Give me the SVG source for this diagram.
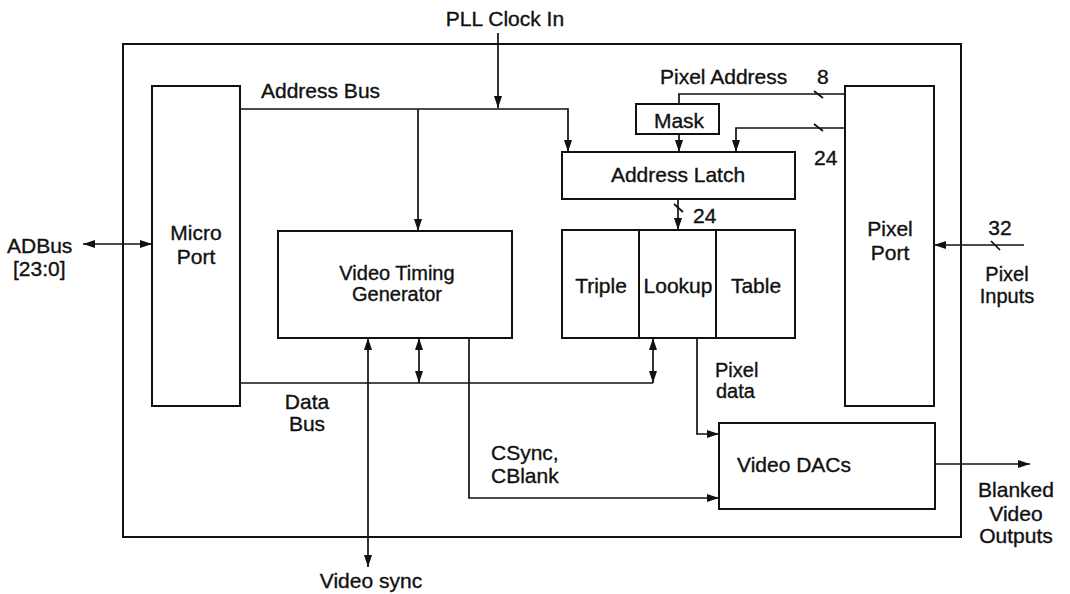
<svg xmlns="http://www.w3.org/2000/svg" width="1070" height="594" viewBox="0 0 1070 594">
<style>
.box{fill:none;stroke:#111;stroke-width:2}
.ln{fill:none;stroke:#111;stroke-width:1.7}
.t{font-family:"Liberation Sans",Arial,sans-serif;font-size:21px;fill:#111;stroke:#111;stroke-width:0.35}
.s{font-size:20px}
.m{text-anchor:middle}
</style>
<defs>
<marker id="ah" viewBox="0 0 12 8" refX="12" refY="4" markerWidth="12" markerHeight="8" markerUnits="userSpaceOnUse" orient="auto-start-reverse">
<path d="M0,0 L12,4 L0,8 Z" fill="#111"/>
</marker>
</defs>
<rect width="1070" height="594" fill="#fff"/>
<g id="outer"><rect class="box" x="123" y="44" width="838" height="493"/></g>
<g id="micro-port"><rect class="box" x="152" y="86" width="88" height="320"/><text class="t m" x="196" y="240">Micro</text><text class="t m" x="196" y="264">Port</text></g>
<g id="vtg"><rect class="box" x="278" y="231" width="234" height="107"/><text class="t s m" x="397" y="280">Video Timing</text><text class="t s m" x="397" y="301">Generator</text></g>
<g id="mask"><rect class="box" x="636" y="104" width="83" height="30"/><text class="t m" x="679" y="128">Mask</text></g>
<g id="address-latch"><rect class="box" x="562" y="152" width="233" height="47"/><text class="t m" x="678" y="182">Address Latch</text></g>
<g id="lut"><rect class="box" x="562" y="230" width="233" height="108"/><line class="box" x1="639" y1="230" x2="639" y2="338"/><line class="box" x1="716" y1="230" x2="716" y2="338"/><text class="t m" x="601" y="293">Triple</text><text class="t m" x="678" y="293">Lookup</text><text class="t m" x="756" y="293">Table</text></g>
<g id="pixel-port"><rect class="box" x="845" y="86" width="89" height="320"/><text class="t m" x="890" y="236">Pixel</text><text class="t m" x="890" y="260">Port</text></g>
<g id="video-dacs"><rect class="box" x="719" y="423" width="216" height="86"/><text class="t" x="737" y="472">Video DACs</text></g>
<g id="connectors">
<line class="ln" x1="83" y1="244" x2="152" y2="244" marker-start="url(#ah)" marker-end="url(#ah)"/>
<polyline class="ln" points="240,109 568,109 568,152" marker-end="url(#ah)"/>
<line class="ln" x1="418" y1="109" x2="418" y2="231" marker-end="url(#ah)"/>
<line class="ln" x1="498" y1="33" x2="498" y2="108" marker-end="url(#ah)"/>
<polyline class="ln" points="845,94 679,94 679,104"/>
<line class="ln" x1="679" y1="134" x2="679" y2="152" marker-end="url(#ah)"/>
<polyline class="ln" points="845,128 736,128 736,152" marker-end="url(#ah)"/>
<line class="ln" x1="678" y1="199" x2="678" y2="230" marker-end="url(#ah)"/>
<line class="ln" x1="1024" y1="245" x2="934" y2="245" marker-end="url(#ah)"/>
<line class="ln" x1="240" y1="383" x2="653" y2="383"/>
<line class="ln" x1="419" y1="338" x2="419" y2="383" marker-start="url(#ah)" marker-end="url(#ah)"/>
<line class="ln" x1="653" y1="338" x2="653" y2="383" marker-start="url(#ah)" marker-end="url(#ah)"/>
<line class="ln" x1="368" y1="338" x2="368" y2="567" marker-start="url(#ah)" marker-end="url(#ah)"/>
<polyline class="ln" points="469,338 469,498 719,498" marker-end="url(#ah)"/>
<polyline class="ln" points="697,338 697,434 719,434" marker-end="url(#ah)"/>
<line class="ln" x1="935" y1="464" x2="1030" y2="464" marker-end="url(#ah)"/>
<line class="ln" x1="814" y1="91" x2="823" y2="98"/>
<line class="ln" x1="814" y1="124" x2="823" y2="131"/>
<line class="ln" x1="674" y1="204" x2="683" y2="212"/>
<line class="ln" x1="991" y1="241" x2="1000" y2="250"/>
</g>
<g id="labels">
<text class="t m" x="505" y="26">PLL Clock In</text>
<text class="t" x="261" y="98">Address Bus</text>
<text class="t" x="660" y="84">Pixel Address</text>
<text class="t" x="817" y="84">8</text>
<text class="t" x="814" y="165">24</text>
<text class="t" x="693" y="223">24</text>
<text class="t" x="7" y="253">ADBus</text>
<text class="t" x="13" y="276">[23:0]</text>
<text class="t m" x="1000" y="235">32</text>
<text class="t s m" x="1007" y="281">Pixel</text>
<text class="t s m" x="1007" y="303">Inputs</text>
<text class="t s" x="715" y="377">Pixel</text>
<text class="t s" x="716" y="398">data</text>
<text class="t m" x="307" y="409">Data</text>
<text class="t m" x="307" y="431">Bus</text>
<text class="t" x="491" y="460">CSync,</text>
<text class="t" x="491" y="483">CBlank</text>
<text class="t m" x="1016" y="497">Blanked</text>
<text class="t m" x="1016" y="521">Video</text>
<text class="t m" x="1016" y="543">Outputs</text>
<text class="t m" x="371" y="588">Video sync</text>
</g>
</svg>
